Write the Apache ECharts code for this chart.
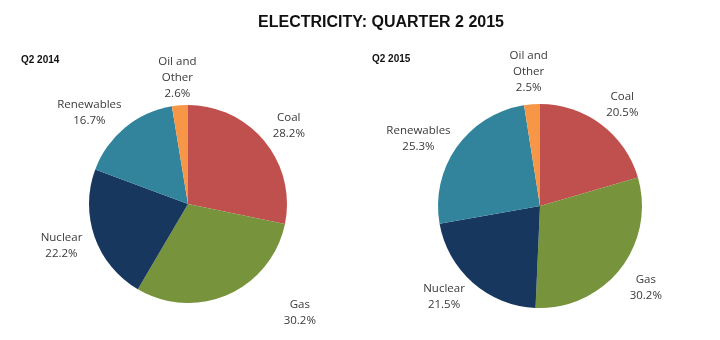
<!DOCTYPE html>
<html>
<head>
<meta charset="utf-8">
<script src="https://cdn.jsdelivr.net/npm/echarts@6/dist/echarts.min.js"></script>
<style>
  html, body { margin: 0; padding: 0; background: #fff; }
  #chart { width: 720px; height: 340px; }
</style>
</head>
<body>
<div id="chart"></div>
<script>
// Electricity generation mix by fuel, share of total (%)
const fuels = ['Coal', 'Gas', 'Nuclear', 'Renewables', 'Oil and Other'];
const labelNames = ['Coal', 'Gas', 'Nuclear', 'Renewables', 'Oil and\nOther'];
const q2_2014 = [28.2, 30.2, 22.2, 16.7, 2.6];
const q2_2015 = [20.5, 30.2, 21.5, 25.3, 2.5];
const panelTitles = ['Q2 2014', 'Q2 2015'];

const fuelColors = ['#c0504d', '#77933c', '#17375e', '#31849b', '#f79646'];

// pie geometry (pixels); nudge = small label offsets from the radial anchor
const pies = [
  { center: [188, 204], radius: 99, labelGap: 31, nudge: [[0, 4], [59, -10], [-4, -2], [-16, 9], [0, 3]] },
  { center: [540, 206], radius: 102, labelGap: 30, nudge: [[3, 4], [2, 0], [-9, -9], [-14, 9], [-1, -3]] }
];
const seriesValues = [q2_2014, q2_2015];

function midAngle(values, i) {
  const total = values.reduce((a, b) => a + b, 0);
  let before = 0;
  for (let k = 0; k < i; k++) before += values[k];
  return ((before + values[i] / 2) / total) * Math.PI * 2; // clockwise from 12 o'clock
}

const chart = echarts.init(document.getElementById('chart'), null, { renderer: 'canvas' });

const series = seriesValues.map((vals, s) => ({
  type: 'pie',
  center: pies[s].center,
  radius: pies[s].radius,
  startAngle: 90,
  clockwise: true,
  silent: true,
  animation: false,
  itemStyle: { borderWidth: 0 },
  label: {
    show: true,
    position: 'outside',
    formatter: p => labelNames[p.dataIndex] + '\n' + p.value.toFixed(1) + '%',
    fontFamily: 'Open Sans, Noto Sans, sans-serif',
    fontSize: 11.5,
    lineHeight: 16,
    color: '#3a3a3a',
    align: 'center',
    overflow: 'none',
    width: 120
  },
  labelLine: { show: false },
  labelLayout: params => {
    const i = params.dataIndex;
    const a = midAngle(vals, i);
    const d = pies[s].radius + pies[s].labelGap;
    const nd = pies[s].nudge[i];
    return {
      x: pies[s].center[0] + Math.sin(a) * d + nd[0],
      y: pies[s].center[1] - Math.cos(a) * d + nd[1],
      align: 'center',
      verticalAlign: 'middle'
    };
  },
  data: fuels.map((f, i) => ({ name: f, value: vals[i], itemStyle: { color: fuelColors[i] } }))
}));

const panelTitleStyle = { fontFamily: 'Liberation Sans, Arial, sans-serif', fontWeight: 'bold', fontSize: 10, color: '#111' };

chart.setOption({
  backgroundColor: '#ffffff',
  title: [
    {
      text: 'ELECTRICITY: QUARTER 2 2015',
      left: 376, top: 10, textAlign: 'center',
      textStyle: { fontFamily: 'Liberation Sans, Arial, sans-serif', fontWeight: 'bold', fontSize: 16, color: '#111' }
    },
    { text: panelTitles[0], left: 21, top: 55, padding: 0, textStyle: panelTitleStyle },
    { text: panelTitles[1], left: 372, top: 54, padding: 0, textStyle: panelTitleStyle }
  ],
  series: series
});
</script>
</body>
</html>
